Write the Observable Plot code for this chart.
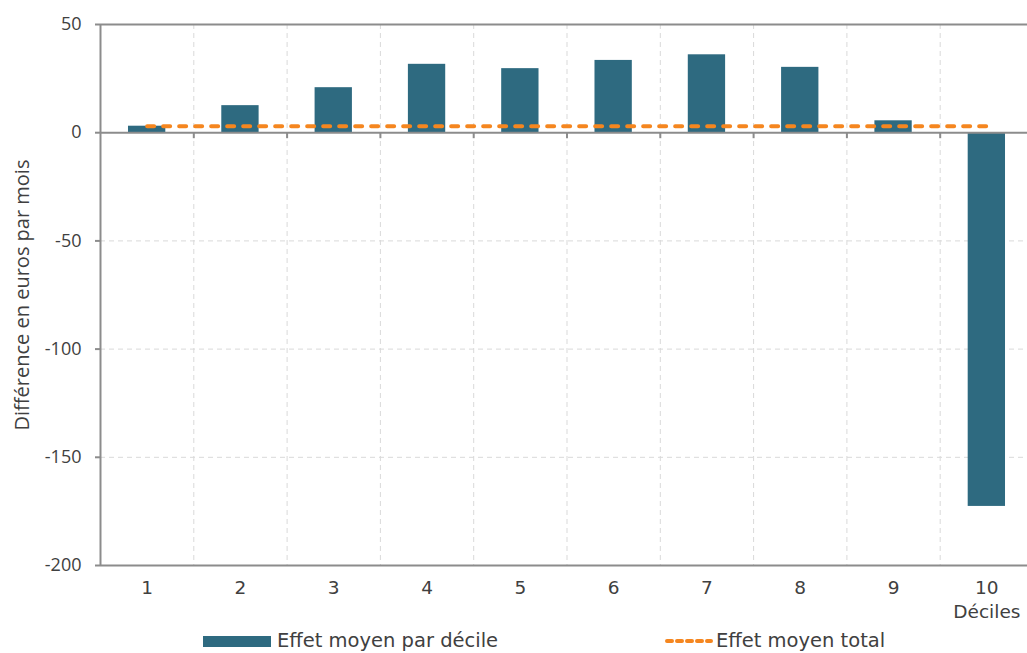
<!DOCTYPE html>
<html><head><meta charset="utf-8">
<script src="https://cdn.jsdelivr.net/npm/d3@7"></script>
<script src="https://cdn.jsdelivr.net/npm/@observablehq/plot@0.6"></script>
<style>
body{margin:0;background:#fff;}
#wrap{position:relative;width:1027px;height:653px;overflow:hidden;}
.leg{position:absolute;top:630px;display:flex;align-items:center;font-family:"DejaVu Sans",sans-serif;font-size:19.5px;color:#404040;white-space:nowrap;line-height:22px;}
</style></head><body>
<div id="wrap"><div id="chart"></div>
<div class="leg" style="left:203px"><span style="display:inline-block;width:68px;height:11px;background:#2e6a80;margin-right:6px"></span>Effet moyen par décile</div>
<div class="leg" style="left:664px"><svg width="50" height="8" style="margin-right:2px"><line x1="3" y1="4" x2="47" y2="4" stroke="#f5861f" stroke-width="4" stroke-linecap="round" stroke-dasharray="5,5"/></svg>Effet moyen total</div>
</div>
<script>
const deciles = ["1","2","3","4","5","6","7","8","9","10"];
const effetParDecile = [3, 12.5, 20.8, 31.6, 29.6, 33.4, 36, 30.2, 5.5, -172.7];
const effetMoyenTotal = 3;
const yTicks = [-200, -150, -100, -50, 0, 50];
const yGrid = [-150, -100, -50];
const yFrame = [-200, 0, 50];
const xLabel = "Déciles";
const yLabel = "Différence en euros par mois";

const W = 1027, H = 622, mL = 100, mR = 0, mT = 24, mB = 57;
const xRange = [mL, 1033];
const step = (xRange[1] - xRange[0]) / deciles.length;

const bars = deciles.map((d, i) => ({decile: d, value: effetParDecile[i]}));
const totalLine = deciles.map(d => ({decile: d, value: effetMoyenTotal}));
const boundaries = deciles.slice(0, -1);

const gray = "#8c8c8c";
const text = "#404040";

const chart = Plot.plot({
  width: W, height: H,
  marginLeft: mL, marginRight: mR, marginTop: mT, marginBottom: mB,
  style: {fontFamily: "'Open Sans', sans-serif", fontSize: "18px", color: text, background: "#fff"},
  x: {type: "band", domain: deciles, range: xRange, paddingInner: 0.6, paddingOuter: 0.3, align: 0.5, round: false},
  y: {domain: [-200, 50]},
  marks: [
    Plot.ruleY(yGrid, {stroke: "#d9d9d9", strokeWidth: 1, strokeDasharray: "5,4"}),
    Plot.ruleX(boundaries, {x: d => d, dx: step / 2, stroke: "#d9d9d9", strokeWidth: 1, strokeDasharray: "5,4"}),
    Plot.barY(bars, {x: "decile", y: "value", fill: "#2e6a80"}),
    Plot.ruleY(yFrame, {stroke: gray, strokeWidth: 2}),
    Plot.ruleX(boundaries, {x: d => d, y1: 0, y2: 0, dx: step / 2, insetBottom: -6, stroke: gray, strokeWidth: 2}),
    Plot.ruleX([deciles[0]], {x: d => d, dx: -step / 2, stroke: gray, strokeWidth: 2}),
    Plot.lineY(totalLine, {x: "decile", y: "value", stroke: "#f5861f", strokeWidth: 4, strokeLinecap: "round", strokeDasharray: "7,9"}),
    Plot.axisY({ticks: yTicks, tickFormat: d => String(d), tickSize: 5, tickPadding: 14, stroke: gray, strokeWidth: 2, fontSize: 18, fill: text,
      label: yLabel, labelAnchor: "center", labelArrow: "none", labelOffset: 86}),
    Plot.axisX({tickSize: 0, tickPadding: 15, fontSize: 18.5, fill: text, fontFamily: "'DejaVu Sans', sans-serif", label: null}),
    Plot.text([xLabel], {x: () => "10", frameAnchor: "bottom", dy: 52, fontSize: 18.5, fill: text, fontFamily: "'DejaVu Sans', sans-serif"})
  ]
});
const lab = chart.querySelector('[aria-label="y-axis label"] text');
if (lab) lab.style.fontSize = "20px";
document.getElementById("chart").appendChild(chart);
</script>
</body></html>
